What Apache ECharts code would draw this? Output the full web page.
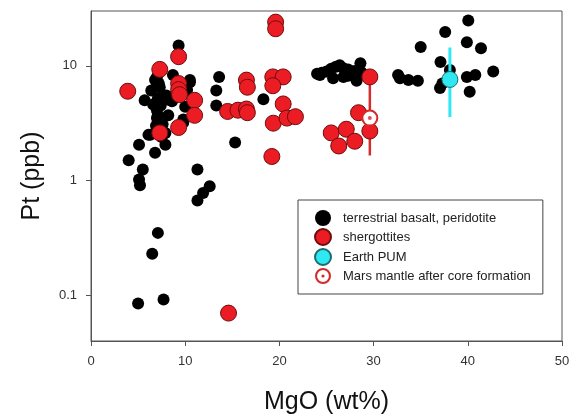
<!DOCTYPE html>
<html>
<head>
<meta charset="utf-8">
<script src="https://cdn.jsdelivr.net/npm/echarts@6/dist/echarts.min.js"></script>
<style>
  html, body { margin: 0; padding: 0; background: #fff; }
  #chart { width: 574px; height: 420px; }
</style>
</head>
<body>
<div id="chart"></div>
<script>
// MgO (wt%), Pt (ppb)
const terrestrial = [
  [4.0, 1.5], [5.1, 2.05], [5.5, 1.25], [5.1, 1.02], [5.2, 0.91], [5.7, 5.0],
  [6.1, 2.5], [6.3, 2.5], [6.8, 1.75], [7.9, 2.05], [6.4, 6.1], [6.8, 7.5],
  [7.0, 8.0], [7.1, 5.2], [7.0, 4.1], [7.0, 3.5], [6.6, 4.6], [7.3, 6.5],
  [7.2, 7.0], [6.9, 3.0], [7.5, 2.4], [7.1, 3.7], [8.2, 3.7], [7.9, 2.6],
  [7.6, 3.1], [8.4, 5.0], [8.6, 4.9], [8.7, 8.3], [8.0, 5.5], [7.4, 4.5],
  [10.5, 7.5], [10.2, 6.15], [10.5, 7.2], [10.0, 4.4], [9.8, 3.4], [9.8, 3.2],
  [9.3, 15], [11.3, 1.25], [11.3, 0.67], [11.9, 0.78], [12.6, 0.89],
  [7.1, 0.35], [6.5, 0.23], [5.0, 0.085], [7.7, 0.092],
  [13.6, 8.0], [13.3, 6.1], [13.3, 4.5], [15.3, 2.15], [18.3, 5.1],
  [24.0, 8.5], [24.5, 8.7], [25.0, 8.9], [25.5, 9.4], [26.0, 9.8], [26.4, 10.1],
  [26.8, 9.5], [27.3, 9.3], [27.7, 8.6], [28.2, 7.4], [28.6, 10.5], [28.7, 8.8],
  [26.8, 8.0], [25.7, 7.8], [27.3, 8.2], [28.0, 9.0], [24.3, 8.3],
  [32.6, 8.3], [32.8, 7.8], [33.7, 7.5], [34.7, 7.4], [35.0, 14.6], [37.6, 19.7],
  [40.05, 24.8], [39.9, 16.0], [41.4, 14.2], [37.1, 10.8], [38.1, 9.2],
  [37.05, 6.4], [37.3, 7.0], [39.9, 8.0], [40.8, 8.3], [42.7, 8.9], [40.2, 5.95]
];

const shergottites = [
  [3.9, 6.0], [7.3, 9.3], [9.3, 12], [9.3, 7.0], [9.3, 6.2], [9.4, 5.6],
  [11.0, 5.0], [11.0, 3.7], [7.3, 2.6], [9.3, 2.9], [14.6, 0.07],
  [19.6, 24], [19.6, 21], [16.5, 7.5], [16.6, 6.5], [14.5, 4.0], [15.6, 4.1],
  [16.5, 4.2], [16.6, 3.9], [19.3, 8.0], [20.4, 8.0], [19.3, 6.7], [20.4, 4.65],
  [19.35, 3.16], [20.8, 3.5], [21.7, 3.6], [19.2, 1.62],
  [29.6, 8.0], [28.4, 3.9], [25.5, 2.6], [27.1, 2.8], [26.3, 2.0], [28.0, 2.2],
  [29.6, 2.7]
];

const earthPUM = [[38.1, 7.6]];
const earthPUMRange = [[38.1, 3.57], [38.1, 14.4]];
const marsMantle = [[29.6, 3.5]];
const marsMantleRange = [[29.6, 1.65], [29.6, 7.5]];

const seriesNames = [
  'terrestrial basalt, peridotite',
  'shergottites',
  'Earth PUM',
  'Mars mantle after core formation'
];
const yTickLabels = [0.1, 1, 10];

const FONT = '"Liberation Sans", Arial, sans-serif';
const RED = '#ec1c24';
const RED_DARK = '#6e0c0c';
const CYAN = '#2fe8f2';
const RING_ICON = 'path://M10,0A10,10,0,1,1,10,20A10,10,0,1,1,10,0Z' +
  'M10,2.6A7.4,7.4,0,1,0,10,17.4A7.4,7.4,0,1,0,10,2.6Z' +
  'M10,8A2,2,0,1,1,10,12A2,2,0,1,1,10,8Z';

function yLabel(v) {
  const hit = yTickLabels.find((t) => Math.abs(v - t) / t < 1e-6);
  return hit === undefined ? '' : String(hit);
}

const chart = echarts.init(document.getElementById('chart'), null, { renderer: 'canvas' });

chart.setOption({
  animation: false,
  textStyle: { fontFamily: FONT },
  grid: {
    left: 91, right: 12, top: 11, bottom: 77,
    show: true, borderColor: '#555', borderWidth: 1
  },
  legend: {
    orient: 'vertical',
    left: 298, top: 200,
    padding: [10, 12, 10, 16],
    itemWidth: 30, itemHeight: 16, itemGap: 2,
    borderColor: '#444', borderWidth: 1,
    textStyle: { fontFamily: FONT, fontSize: 13, color: '#222' },
    data: [
      { name: seriesNames[0] },
      { name: seriesNames[1] },
      { name: seriesNames[2] },
      { name: seriesNames[3], icon: RING_ICON, itemStyle: { color: '#d42a2a', borderWidth: 0 } }
    ]
  },
  xAxis: {
    type: 'value', min: 0, max: 50, interval: 10,
    name: 'MgO (wt%)', nameLocation: 'middle', nameGap: 49,
    nameTextStyle: { fontFamily: FONT, fontSize: 25, color: '#111' },
    axisLine: { lineStyle: { color: '#555', width: 1 } },
    axisTick: { length: 5, lineStyle: { color: '#555' } },
    axisLabel: { margin: 14, fontSize: 13, color: '#333', fontFamily: FONT },
    splitLine: { show: false }
  },
  yAxis: {
    type: 'log', logBase: 10, min: 0.04, max: 30,
    name: 'Pt (ppb)', nameLocation: 'middle', nameGap: 46,
    nameTextStyle: { fontFamily: FONT, fontSize: 25, color: '#111' },
    axisLine: { show: true, lineStyle: { color: '#555', width: 1 } },
    axisTick: { show: true, length: 5, lineStyle: { color: '#555' } },
    axisLabel: {
      margin: 14, fontSize: 13, color: '#333', fontFamily: FONT,
      showMinLabel: false, showMaxLabel: false, formatter: yLabel
    },
    splitLine: { show: false }
  },
  series: [
    {
      name: seriesNames[0], type: 'scatter', data: terrestrial,
      symbol: 'circle', symbolSize: 12,
      itemStyle: { color: '#000', opacity: 1 }, z: 2
    },
    {
      name: 'PUM range', type: 'line', data: earthPUMRange,
      showSymbol: false, silent: true,
      lineStyle: { color: CYAN, width: 3 }, z: 3
    },
    {
      name: 'Mars range', type: 'line', data: marsMantleRange,
      showSymbol: false, silent: true,
      lineStyle: { color: '#d62b2b', width: 2.5 }, z: 3
    },
    {
      name: seriesNames[1], type: 'scatter', data: shergottites,
      symbol: 'circle', symbolSize: 16,
      itemStyle: { color: RED, borderColor: RED_DARK, borderWidth: 1, opacity: 1 }, z: 4
    },
    {
      name: seriesNames[2], type: 'scatter', data: earthPUM,
      symbol: 'circle', symbolSize: 16,
      itemStyle: { color: CYAN, borderColor: '#1d6b70', borderWidth: 1, opacity: 1 }, z: 5
    },
    {
      name: seriesNames[3], type: 'scatter', data: marsMantle,
      symbol: 'circle', symbolSize: 15,
      itemStyle: { color: '#fff', borderColor: '#d42a2a', borderWidth: 2, opacity: 1 }, z: 6
    },
    {
      name: 'Mars centre', type: 'scatter', data: marsMantle,
      symbol: 'circle', symbolSize: 4, silent: true,
      itemStyle: { color: '#d42a2a' }, z: 7
    }
  ]
});
</script>
</body>
</html>
